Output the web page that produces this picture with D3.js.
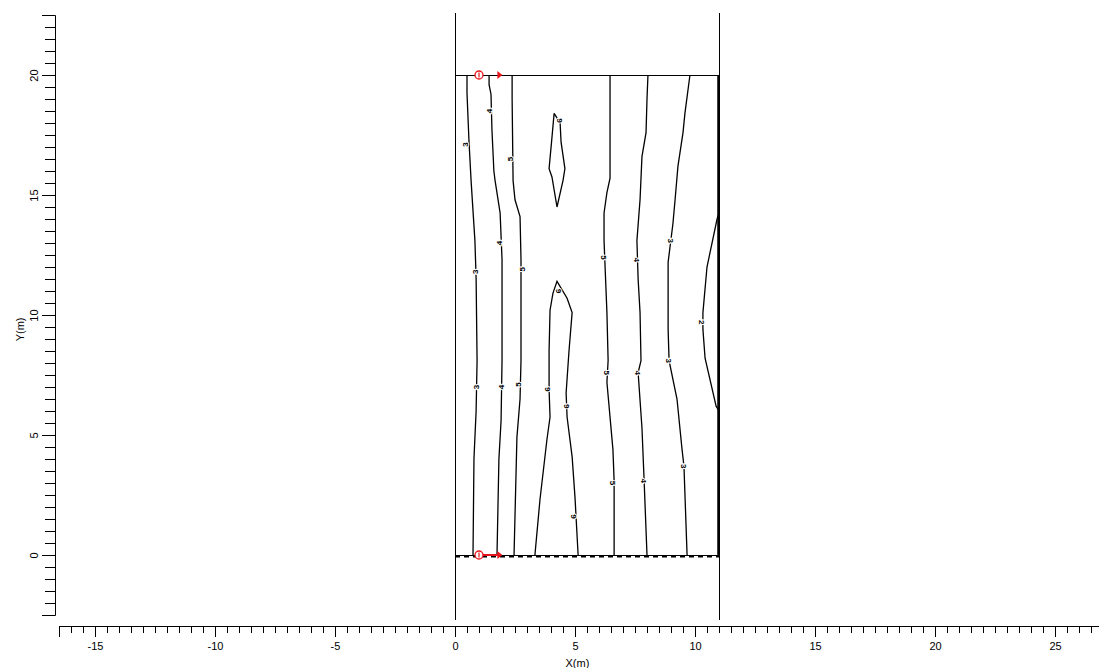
<!DOCTYPE html>
<html>
<head>
<meta charset="utf-8">
<script src="https://cdn.jsdelivr.net/npm/d3@7"></script>
<style>
  body { margin: 0; background: #fff; }
  svg { display: block; font-family: "Liberation Sans", Arial, sans-serif; }
  .axis text { font-size: 11px; fill: #000; }
  .axis line, .axis path { stroke: #000; }
</style>
</head>
<body>
<svg id="chart" width="1099" height="668"></svg>
<script>
// axis extents (m)
var xAxisExtent = [-16.5, 26.9];
var yAxisExtent = [-2.5, 22.5];
var tickStep = 0.5;

// survey area and full-height borehole lines
var areaX = [0, 11];
var areaY = [0, 20];
var boreLineY = [-2.7, 22.6];

// electrodes (red circles) and arrows
var electrodes = [[1, 20], [1, 0]];
var arrows = [[1.85, 20], [1.85, 0]];

// contour lines [x, y]
var contour3L = [[0.5,20],[0.5,19.25],[0.58,17.3],[0.67,15.6],[0.83,13.1],[0.88,11.5],[0.92,8.1],[0.88,6.0],[0.79,4.0],[0.75,0]];
var contour4L = [[1.42,20],[1.42,19.6],[1.5,19.2],[1.54,17.7],[1.62,16.0],[1.67,15.6],[1.88,14.25],[1.96,12.3],[1.96,8.1],[1.92,5.6],[1.83,4.0],[1.75,0]];
var contour5L = [[2.38,20],[2.38,19],[2.42,15.6],[2.5,14.8],[2.71,14.1],[2.75,12.3],[2.75,8.1],[2.71,6.5],[2.58,4.9],[2.46,0]];
var contour6U = [[3.33,0],[3.54,2.3],[3.83,4.8],[3.96,5.75],[3.92,6.9],[3.92,8.5],[3.96,10.2],[4.08,10.9],[4.25,11.4],[4.67,10.7],[4.88,10.1],[4.75,8.5],[4.63,6.75],[4.67,5.75],[4.88,4.1],[5.0,2.4],[5.13,0]];
var contour6Top = [[4.13,18.4],[4.04,17.4],[3.92,16.1],[4.04,15.75],[4.25,14.5],[4.5,15.6],[4.58,16.1],[4.42,17.2],[4.38,18.0],[4.13,18.4]];
var contour5R = [[6.46,20],[6.46,15.7],[6.33,15.1],[6.21,14.25],[6.21,13.1],[6.33,10.1],[6.38,8.1],[6.33,7.2],[6.58,4.4],[6.63,3.1],[6.63,0]];
var contour4R = [[8.04,20],[8.0,19.0],[7.96,17.6],[7.79,16.6],[7.71,14.8],[7.58,13.1],[7.63,11.5],[7.71,10.1],[7.75,8.1],[7.63,7.6],[7.79,5.3],[7.88,3.1],[8.0,0]];
var contour3R = [[9.79,20],[9.58,18.4],[9.5,17.6],[9.29,16.2],[9.17,14.8],[9.08,13.8],[8.88,12.2],[8.88,9.4],[8.92,8.1],[9.25,6.5],[9.46,4.4],[9.54,3.7],[9.67,0]];
var contour2R = [[11,14.25],[10.92,14.0],[10.5,12.0],[10.33,10.1],[10.33,9.4],[10.42,8.2],[10.88,6.2],[11,6.0]];
var contours = [contour3L, contour4L, contour5L, contour6U, contour6Top, contour5R, contour4R, contour3R, contour2R];

// contour labels [x, y, text, rotation]
var contourLabels = [
  [0.42,17.1,"3",-90],[0.83,11.8,"3",-90],[0.88,7.0,"3",-90],
  [1.42,18.5,"4",-90],[1.83,13.0,"4",-90],[1.92,7.0,"4",-90],
  [2.29,16.5,"5",-90],[2.79,11.9,"5",-90],[2.63,7.1,"5",-90],
  [3.83,6.9,"6",-90],[4.29,11.0,"6",-90],[4.63,6.2,"6",-90],[4.92,1.6,"6",-90],[4.35,18.1,"6",-90],
  [6.21,12.4,"5",90],[6.33,7.6,"5",90],[6.58,3.0,"5",90],
  [7.58,12.3,"4",90],[7.63,7.6,"4",90],[7.88,3.1,"4",90],
  [9.0,13.1,"3",90],[8.92,8.1,"3",90],[9.54,3.7,"3",90],
  [10.29,9.7,"2",90]
];

var svg = d3.select("#chart");
svg.append("rect").attr("width", 1099).attr("height", 668).attr("fill", "#fff");

var x = d3.scaleLinear().domain([0, 11]).range([455, 719]);
var y = d3.scaleLinear().domain([0, 20]).range([555, 75]);

var xa = d3.scaleLinear().domain(xAxisExtent).range(xAxisExtent.map(x));
var ya = d3.scaleLinear().domain(yAxisExtent).range(yAxisExtent.map(y));

var xTicks = d3.range(xAxisExtent[0], 26.6, tickStep);
var yTicks = d3.range(yAxisExtent[0], yAxisExtent[1] + 0.01, tickStep);
var isMajor = d => Math.abs(d % 5) < 1e-9;

// X axis
var gx = svg.append("g")
  .attr("class", "axis")
  .attr("transform", "translate(0,626)")
  .call(d3.axisBottom(xa).tickValues(xTicks).tickSizeOuter(0).tickSize(11).tickPadding(5)
    .tickFormat(d => isMajor(d) ? String(d) : ""));
gx.selectAll(".tick line").attr("y2", d => isMajor(d) ? 11 : 7);

svg.append("text")
  .attr("x", xa(5.1)).attr("y", 667)
  .attr("text-anchor", "middle")
  .style("font-size", "11px")
  .text("X(m)");

// Y axis
var gy = svg.append("g")
  .attr("class", "axis")
  .attr("transform", "translate(55,0)")
  .call(d3.axisLeft(ya).tickValues(yTicks).tickSizeOuter(0).tickSize(13)
    .tickFormat(d => isMajor(d) ? String(d) : ""));
gy.selectAll(".tick line").attr("x2", d => isMajor(d) ? -13 : -10);
gy.selectAll(".tick text")
  .attr("x", 0).attr("dy", 0)
  .attr("text-anchor", "middle")
  .attr("transform", "translate(-17,0) rotate(-90)");

svg.append("text")
  .attr("transform", "translate(24," + ya(9.4) + ") rotate(-90)")
  .attr("text-anchor", "middle")
  .style("font-size", "11px")
  .text("Y(m)");

// full-height lines at area edges
svg.selectAll(".bore")
  .data(areaX)
  .enter().append("line")
    .attr("x1", d => x(d)).attr("x2", d => x(d))
    .attr("y1", y(boreLineY[1])).attr("y2", y(boreLineY[0]))
    .attr("stroke", "#000")
    .attr("shape-rendering", "crispEdges");

// top edge
svg.append("line")
  .attr("x1", x(areaX[0])).attr("x2", x(areaX[1]))
  .attr("y1", y(areaY[1])).attr("y2", y(areaY[1]))
  .attr("stroke", "#000")
  .attr("shape-rendering", "crispEdges");

// right edge (thick)
svg.append("line")
  .attr("x1", x(areaX[1]) - 0.5).attr("x2", x(areaX[1]) - 0.5)
  .attr("y1", y(areaY[1])).attr("y2", y(areaY[0]))
  .attr("stroke", "#000").attr("stroke-width", 2.5);

// bottom edge: thin line plus thick dashes
svg.append("line")
  .attr("x1", x(areaX[0])).attr("x2", x(areaX[1]))
  .attr("y1", y(areaY[0])).attr("y2", y(areaY[0]))
  .attr("stroke", "#000")
  .attr("shape-rendering", "crispEdges");
svg.append("line")
  .attr("x1", x(areaX[0])).attr("x2", x(areaX[1]))
  .attr("y1", y(areaY[0]) + 1.5).attr("y2", y(areaY[0]) + 1.5)
  .attr("stroke", "#000").attr("stroke-width", 2)
  .attr("stroke-dasharray", "5,4");

// contours
var line = d3.line().x(d => x(d[0])).y(d => y(d[1]));
svg.append("g").selectAll("path")
  .data(contours)
  .enter().append("path")
    .attr("d", line)
    .attr("fill", "none")
    .attr("stroke", "#000")
    .attr("stroke-width", 1.3);

svg.append("g").selectAll("text")
  .data(contourLabels)
  .enter().append("text")
    .attr("transform", d => "translate(" + x(d[0]) + "," + y(d[1]) + ") rotate(" + d[3] + ")")
    .attr("text-anchor", "middle")
    .attr("dy", "0.35em")
    .style("font-size", "8px")
    .style("font-weight", "bold")
    .attr("fill", "#000")
    .attr("stroke", "#fff").attr("stroke-width", 2).attr("paint-order", "stroke")
    .text(d => d[2]);

// red markers
var red = "#e8141b";
svg.append("line")
  .attr("x1", x(electrodes[1][0])).attr("x2", x(arrows[1][0]))
  .attr("y1", y(electrodes[1][1])).attr("y2", y(arrows[1][1]))
  .attr("stroke", red).attr("stroke-width", 2);

var eg = svg.append("g").selectAll("g")
  .data(electrodes)
  .enter().append("g")
    .attr("transform", d => "translate(" + x(d[0]) + "," + y(d[1]) + ")");
eg.append("circle").attr("r", 4).attr("fill", "#fff").attr("stroke", red).attr("stroke-width", 1.3);
eg.append("line").attr("y1", -2.5).attr("y2", 2.5).attr("stroke", red).attr("stroke-width", 1.2);

svg.append("g").selectAll("path")
  .data(arrows)
  .enter().append("path")
    .attr("transform", d => "translate(" + x(d[0]) + "," + y(d[1]) + ")")
    .attr("d", "M-2,-4L3,0L-2,4Z")
    .attr("fill", red);
</script>
</body>
</html>
